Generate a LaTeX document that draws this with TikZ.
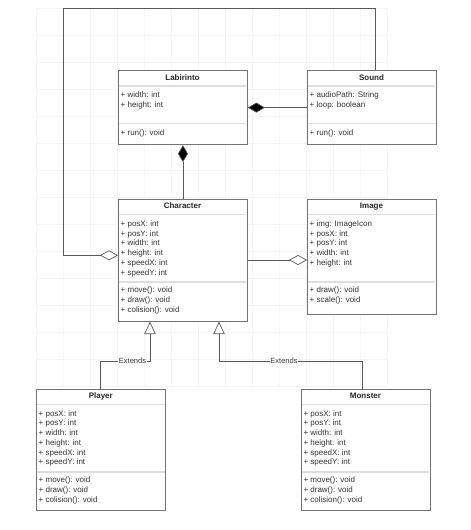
\documentclass[tikz,border=0pt]{standalone}
\usepackage{fontspec}
\setmainfont{Liberation Sans}
\usetikzlibrary{arrows.meta}
\tikzset{
  box/.style={draw=black!55, line width=0.9pt, fill=white, inner sep=0pt, anchor=north west},
  sepline/.style={draw=black!13, line width=1.6pt},
  title/.style={font=\fontsize{8}{9.7}\selectfont\bfseries, text=black!85, inner sep=0pt, anchor=base},
  member/.style={font=\fontsize{8}{9.7}\selectfont, text=black!80, inner sep=0pt, anchor=base west},
  conn/.style={draw=black!65, line width=0.7pt},
  compo/.style={conn, -{Diamond[fill=black, length=17pt, width=10pt]}},
  aggr/.style={conn, -{Diamond[open, fill=white, length=18pt, width=10pt]}},
  inh/.style={conn, -{Triangle[open, fill=white, length=12.5pt, width=11.5pt]}},
  lbl/.style={font=\fontsize{7.5}{9}\selectfont, text=black!78, fill=white, inner sep=0.6pt},
  gridline/.style={draw=black!4, line width=0.4pt}
}
\newcommand{\members}[5]{% prefix, x, first baseline, step, list
  \foreach \t [count=\i] in {#5}{\node[member] (#1-\i) at (#2,{#3+#4*(\i-1)}) {\t};}}
\begin{document}
\begin{tikzpicture}[x=1pt,y=-1pt]
\useasboundingbox (0,0) rectangle (471,530);
\fill[white] (0,0) rectangle (471,530);
% faint background grid
\foreach \gx in {36,63,...,390} {\draw[gridline] (\gx,8) -- (\gx,386);}
\foreach \gy in {8,35,...,390} {\draw[gridline] (36,\gy) -- (387,\gy);}

% ---------- Labirinto ----------
\node[box, minimum width=129pt, minimum height=74.3pt] (lab) at (118,70) {};
\node[title] (lab-t) at (182.5,80) {Labirinto};
\draw[sepline] (118.6,86) -- (246.4,86);
\members{lab-a}{120.5}{97.8}{10}{+ width: int,+ height: int}
\draw[sepline] (118.6,123.3) -- (246.4,123.3);
\members{lab-m}{120.5}{135.8}{10}{+ run(): void}

% ---------- Sound ----------
\node[box, minimum width=129pt, minimum height=74.3pt] (sound) at (307,70) {};
\node[title] (sound-t) at (371.5,80) {Sound};
\draw[sepline] (307.6,86) -- (435.4,86);
\members{sound-a}{309.5}{97.8}{10}{+ audioPath: String,+ loop: boolean}
\draw[sepline] (307.6,123.3) -- (435.4,123.3);
\members{sound-m}{309.5}{135.8}{10}{+ run(): void}

% ---------- Character ----------
\node[box, minimum width=129pt, minimum height=122pt] (char) at (118,198.7) {};
\node[title] (char-t) at (182.5,208) {Character};
\draw[sepline] (118.6,214.3) -- (246.4,214.3);
\members{char-a}{120.5}{226.4}{9.75}{+ posX: int,+ posY: int,+ width: int,+ height: int,+ speedX: int,+ speedY: int}
\draw[sepline] (118.6,281.7) -- (246.4,281.7);
\members{char-m}{120.5}{292.8}{9.9}{+ move(): void,+ draw(): void,+ colision(): void}

% ---------- Image ----------
\node[box, minimum width=129pt, minimum height=115pt] (img) at (307,198.7) {};
\node[title] (img-t) at (371.5,208) {Image};
\draw[sepline] (307.6,214.3) -- (435.4,214.3);
\members{img-a}{309.5}{226.4}{9.75}{+ img: ImageIcon,+ posX: int,+ posY: int,+ width: int,+ height: int}
\draw[sepline] (307.6,281.7) -- (435.4,281.7);
\members{img-m}{309.5}{292.8}{10}{+ draw(): void,+ scale(): void}

% ---------- Player ----------
\node[box, minimum width=129pt, minimum height=121.6pt] (player) at (36.3,388.7) {};
\node[title] (player-t) at (100.8,398) {Player};
\draw[sepline] (36.9,404.3) -- (164.7,404.3);
\members{pl-a}{38.5}{416.2}{9.75}{+ posX: int,+ posY: int,+ width: int,+ height: int,+ speedX: int,+ speedY: int}
\draw[sepline] (36.9,471.7) -- (164.7,471.7);
\members{pl-m}{38.5}{482.8}{10}{+ move(): void,+ draw(): void,+ colision(): void}

% ---------- Monster ----------
\node[box, minimum width=128.4pt, minimum height=121.6pt] (mon) at (301.3,388.7) {};
\node[title] (mon-t) at (365.5,398) {Monster};
\draw[sepline] (301.9,404.3) -- (429.1,404.3);
\members{mo-a}{303.3}{416.2}{9.75}{+ posX: int,+ posY: int,+ width: int,+ height: int,+ speedX: int,+ speedY: int}
\draw[sepline] (301.9,471.7) -- (429.1,471.7);
\members{mo-m}{303.3}{482.8}{10}{+ move(): void,+ draw(): void,+ colision(): void}

% ---------- connectors ----------
\coordinate (stop) at (375,70);
\coordinate (tl) at (63.3,8.3);
\coordinate (bl) at (63.3,255.3);
\coordinate (e1) at (150,361);
\coordinate (e2) at (219,361);
\coordinate (ptop) at (100.5,388.7);
\coordinate (mtop) at (362.3,388.7);

\draw[compo] (sound.west) -- (lab.east);
\draw[compo] (char.north) -- (lab.south);
\draw[aggr] (stop) -- (stop |- tl) -- (tl) -- (bl) -- (bl -| char.west);
\draw[aggr] (char.east |- 0,260) -- (img.west |- 0,260);
\draw[inh] (ptop) |- (e1) -- (e1 |- char.south);
\draw[inh] (mtop) |- (e2) -- (e2 |- char.south);
\node[lbl] (ext1) at (132.5,361) {Extends};
\node[lbl] (ext2) at (284,361) {Extends};
\end{tikzpicture}
\end{document}
